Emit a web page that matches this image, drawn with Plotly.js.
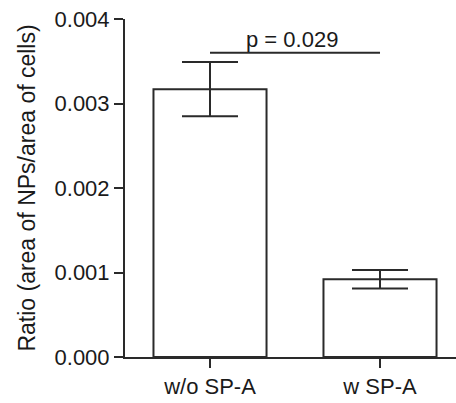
<!DOCTYPE html>
<html>
<head>
<meta charset="utf-8">
<script src="https://cdn.plot.ly/plotly-3.0.1.min.js"></script>
<style>html,body{margin:0;padding:0;background:#fff;}#chart{width:456px;height:403px;}</style>
</head>
<body>
<div id="chart"></div>
<script>
const categories = ["w/o SP-A", "w SP-A"];
const means = [0.00317, 0.00092];
const errors = [0.00032, 0.00011];
const yTicks = [0, 0.001, 0.002, 0.003, 0.004];
const yTickLabels = ["0.000", "0.001", "0.002", "0.003", "0.004"];
const pValueText = "p = 0.029";
const pValueY = 0.0036;

const lineColor = "#2a2a2a";
const font = {family: "Liberation Sans, Arial, sans-serif", size: 22, color: "#1a1a1a"};

const trace = {
  type: "bar",
  x: [0, 1],
  y: means,
  width: 0.665,
  marker: {color: "#ffffff", line: {color: lineColor, width: 2}},
  error_y: {type: "data", array: errors, visible: true, color: lineColor, thickness: 2, width: 28},
  hoverinfo: "skip"
};

const layout = {
  width: 456, height: 403,
  margin: {l: 125, r: 0, t: 19, b: 46},
  paper_bgcolor: "#fff", plot_bgcolor: "#fff",
  showlegend: false,
  font: font,
  xaxis: {
    range: [-0.5, 1.447],
    tickmode: "array", tickvals: [0, 1], ticktext: categories,
    showline: true, linecolor: lineColor, linewidth: 2,
    ticks: "outside", ticklen: 9, tickwidth: 2, tickcolor: lineColor,
    showgrid: false, zeroline: false, fixedrange: true,
    tickfont: font
  },
  yaxis: {
    range: [0, 0.004],
    tickmode: "array", tickvals: yTicks, ticktext: yTickLabels,
    showline: true, linecolor: lineColor, linewidth: 2,
    ticks: "outside", ticklen: 9, tickwidth: 2, tickcolor: lineColor,
    showgrid: false, zeroline: false, fixedrange: true,
    tickfont: font,
    title: {text: "Ratio (area of NPs/area of cells)", font: {family: font.family, size: 23, color: "#1a1a1a"}, standoff: 12},
    automargin: false
  },
  shapes: [{
    type: "line", xref: "x", yref: "y",
    x0: 0, x1: 1, y0: pValueY, y1: pValueY,
    line: {color: lineColor, width: 2}
  }],
  annotations: [{
    xref: "x", yref: "y", x: 0.485, y: pValueY,
    text: pValueText, showarrow: false,
    yanchor: "bottom", xanchor: "center", yshift: -1,
    font: font
  }]
};

Plotly.newPlot("chart", [trace], layout, {displayModeBar: false, staticPlot: true});
</script>
</body>
</html>
